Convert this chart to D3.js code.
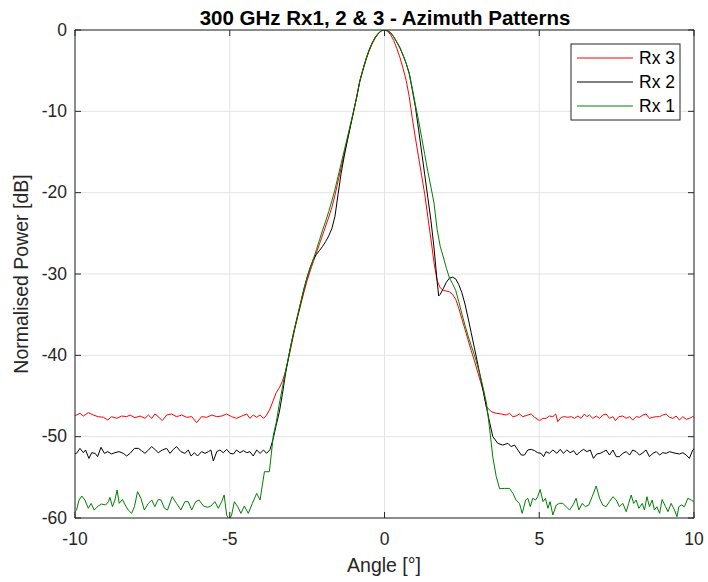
<!DOCTYPE html>
<html><head><meta charset="utf-8">
<script src="https://cdn.jsdelivr.net/npm/d3@7"></script>
<style>body{margin:0;background:#fff}</style>
</head><body><svg id="c" width="708" height="582"></svg>
<script>
const titleText = "300 GHz Rx1, 2 & 3 - Azimuth Patterns";
const xLabel = "Angle [°]";
const yLabel = "Normalised Power [dB]";
const xTicks = [-10, -5, 0, 5, 10];
const yTicks = [0, -10, -20, -30, -40, -50, -60];
const seriesNames = ["Rx 3", "Rx 2", "Rx 1"];
const seriesColors = ["#ff0000", "#000000", "#008000"];

// Rx 3 : [angle (deg), power (dB)]
const rx3 = [[-10,-47.4],[-9.95,-47.34],[-9.84,-47.13],[-9.73,-47.46],[-9.57,-47.05],[-9.41,-47.34],[-9.25,-47.54],[-9.08,-47.62],[-8.94,-47.95],[-8.82,-47.54],[-8.65,-47.75],[-8.49,-47.46],[-8.33,-47.54],[-8.22,-47.34],[-8.06,-47.67],[-7.9,-47.46],[-7.74,-47.75],[-7.63,-47.34],[-7.52,-47.75],[-7.42,-47.21],[-7.31,-47.54],[-7.18,-48.03],[-7.04,-47.34],[-6.88,-47.21],[-6.72,-47.54],[-6.55,-47.34],[-6.39,-47.62],[-6.23,-47.54],[-6.07,-48.28],[-5.91,-47.54],[-5.75,-47.62],[-5.58,-47.34],[-5.42,-47.54],[-5.26,-47.46],[-5.1,-47.21],[-4.94,-47.54],[-4.78,-47.75],[-4.61,-47.46],[-4.45,-47.21],[-4.35,-47.75],[-4.24,-47.34],[-4.13,-47.62],[-4.02,-47.34],[-3.91,-47.75],[-3.81,-47.34],[-3.7,-46.6],[-3.6,-45.6],[-3.5,-44.6],[-3.4,-44.0],[-3.3,-43.2],[-3.2,-42.0],[-3.1,-40.4],[-3.0,-38.6],[-2.9,-36.8],[-2.8,-35.2],[-2.7,-33.7],[-2.6,-32.2],[-2.5,-30.8],[-2.4,-29.6],[-2.3,-28.5],[-2.2,-27.4],[-2.1,-26.3],[-2.0,-25.2],[-1.9,-24.1],[-1.8,-23.0],[-1.7,-21.8],[-1.6,-20.3],[-1.5,-18.6],[-1.4,-16.9],[-1.3,-15.2],[-1.2,-13.5],[-1.1,-11.8],[-1.0,-10.1],[-0.9,-8.2],[-0.8,-6.4],[-0.7,-5.0],[-0.6,-3.7],[-0.5,-2.6],[-0.4,-1.7],[-0.3,-1.0],[-0.2,-0.45],[-0.1,-0.1],[0,0],[0.1,-0.15],[0.2,-0.6],[0.3,-1.3],[0.4,-2.3],[0.5,-3.4],[0.6,-4.7],[0.7,-6.2],[0.8,-8.2],[0.9,-10.9],[1.0,-13.3],[1.1,-15.6],[1.2,-17.9],[1.3,-20.2],[1.4,-23.0],[1.5,-25.7],[1.6,-28.6],[1.7,-30.8],[1.8,-31.7],[1.9,-32.0],[2.0,-32.1],[2.1,-32.2],[2.2,-32.5],[2.3,-33.1],[2.4,-34.2],[2.5,-35.5],[2.6,-36.8],[2.7,-38.1],[2.8,-39.4],[2.9,-40.6],[3.0,-41.9],[3.1,-43.2],[3.2,-44.5],[3.29,-46.31],[3.45,-46.93],[3.61,-47.13],[3.77,-47.21],[3.93,-47.34],[4.04,-47.13],[4.15,-47.54],[4.25,-47.46],[4.36,-47.21],[4.47,-47.54],[4.63,-47.34],[4.74,-47.21],[4.85,-47.62],[5.01,-48.03],[5.12,-47.75],[5.22,-47.75],[5.33,-47.46],[5.44,-47.54],[5.53,-47.21],[5.6,-48.16],[5.71,-47.62],[5.82,-47.54],[5.92,-47.62],[6.03,-47.54],[6.14,-47.75],[6.25,-47.46],[6.35,-47.75],[6.46,-47.21],[6.54,-47.54],[6.62,-47.34],[6.73,-47.75],[6.84,-47.46],[6.95,-47.75],[7.05,-47.34],[7.16,-47.21],[7.27,-47.75],[7.38,-47.54],[7.46,-48.03],[7.57,-47.54],[7.7,-47.46],[7.81,-47.75],[7.92,-47.54],[8.02,-47.95],[8.13,-47.54],[8.24,-47.62],[8.35,-47.34],[8.45,-47.21],[8.56,-47.75],[8.67,-47.62],[8.78,-47.54],[8.89,-47.54],[8.99,-47.34],[9.1,-47.21],[9.21,-47.62],[9.32,-47.75],[9.42,-47.46],[9.53,-47.95],[9.64,-47.54],[9.75,-47.87],[9.85,-47.75],[9.96,-47.54],[10,-47.6]];

// Rx 2
const rx2 = [[-10,-52.1],[-9.95,-52.05],[-9.84,-51.44],[-9.73,-51.97],[-9.66,-51.64],[-9.55,-52.67],[-9.46,-51.97],[-9.35,-52.05],[-9.27,-52.46],[-9.16,-51.31],[-9.05,-52.05],[-8.94,-51.84],[-8.82,-52.13],[-8.71,-51.97],[-8.58,-51.84],[-8.44,-52.05],[-8.33,-52.38],[-8.22,-52.05],[-8.08,-51.44],[-7.95,-51.44],[-7.85,-51.72],[-7.74,-52.05],[-7.63,-51.64],[-7.52,-51.23],[-7.42,-51.56],[-7.31,-51.97],[-7.18,-51.64],[-7.04,-51.44],[-6.93,-52.05],[-6.82,-51.56],[-6.72,-51.23],[-6.58,-51.84],[-6.45,-52.05],[-6.34,-51.64],[-6.25,-52.38],[-6.14,-51.97],[-6.04,-52.38],[-5.91,-51.84],[-5.8,-52.05],[-5.69,-51.84],[-5.61,-51.64],[-5.53,-52.99],[-5.42,-51.84],[-5.32,-51.64],[-5.21,-51.97],[-5.1,-51.56],[-4.99,-52.05],[-4.88,-52.13],[-4.78,-51.64],[-4.67,-51.97],[-4.56,-51.72],[-4.45,-51.97],[-4.35,-51.84],[-4.24,-52.38],[-4.13,-51.64],[-4.02,-52.05],[-3.91,-51.64],[-3.81,-52.05],[-3.7,-51.6],[-3.6,-50.3],[-3.5,-48.6],[-3.4,-47.0],[-3.3,-44.8],[-3.2,-42.3],[-3.1,-40.2],[-3.0,-38.3],[-2.9,-36.6],[-2.8,-35.0],[-2.7,-33.4],[-2.6,-31.8],[-2.5,-30.4],[-2.4,-29.2],[-2.3,-28.2],[-2.2,-27.6],[-2.1,-27.1],[-2.0,-26.6],[-1.9,-26.0],[-1.8,-25.3],[-1.7,-24.4],[-1.6,-22.9],[-1.5,-20.2],[-1.4,-17.6],[-1.3,-15.5],[-1.2,-13.6],[-1.1,-11.8],[-1.0,-10.0],[-0.9,-8.3],[-0.8,-6.3],[-0.7,-4.9],[-0.6,-3.6],[-0.5,-2.5],[-0.4,-1.6],[-0.3,-0.9],[-0.2,-0.4],[-0.1,-0.1],[0,0],[0.1,-0.08],[0.2,-0.35],[0.3,-0.85],[0.4,-1.5],[0.5,-2.2],[0.6,-3.1],[0.7,-4.1],[0.8,-5.4],[0.9,-7.4],[1.0,-9.5],[1.1,-12.2],[1.2,-15.0],[1.3,-17.8],[1.4,-20.6],[1.5,-23.4],[1.6,-26.8],[1.7,-30.9],[1.75,-32.7],[1.8,-32.5],[1.9,-31.8],[2.0,-31.0],[2.1,-30.5],[2.2,-30.4],[2.3,-30.6],[2.4,-31.3],[2.5,-32.3],[2.6,-33.7],[2.7,-35.4],[2.8,-37.2],[2.9,-39.0],[3.0,-40.8],[3.1,-42.7],[3.2,-44.6],[3.3,-46.5],[3.4,-48.3],[3.5,-50.0],[3.66,-50.82],[3.82,-51.03],[3.99,-50.82],[4.09,-51.23],[4.2,-51.03],[4.31,-51.64],[4.42,-52.26],[4.52,-52.26],[4.63,-51.64],[4.74,-51.56],[4.85,-51.72],[4.95,-51.97],[5.06,-52.05],[5.14,-52.46],[5.22,-51.84],[5.33,-52.05],[5.44,-51.64],[5.57,-52.05],[5.68,-51.56],[5.78,-52.05],[5.89,-51.64],[6.0,-51.97],[6.11,-51.72],[6.21,-52.26],[6.32,-51.84],[6.43,-51.56],[6.54,-51.84],[6.65,-51.64],[6.75,-52.67],[6.86,-52.13],[6.97,-52.05],[7.08,-51.84],[7.16,-51.64],[7.27,-52.26],[7.38,-51.64],[7.49,-52.46],[7.59,-52.46],[7.7,-52.05],[7.81,-51.84],[7.92,-52.26],[8.02,-51.64],[8.13,-51.84],[8.24,-52.26],[8.35,-51.97],[8.45,-51.64],[8.56,-52.46],[8.67,-52.05],[8.78,-51.84],[8.89,-52.26],[8.99,-51.97],[9.1,-52.05],[9.21,-51.84],[9.32,-51.97],[9.42,-52.05],[9.53,-52.13],[9.64,-51.97],[9.75,-52.26],[9.85,-52.67],[9.96,-51.64],[10,-51.5]];

// Rx 1
const rx1 = [[-10,-59.2],[-9.95,-59.02],[-9.87,-57.79],[-9.78,-57.3],[-9.68,-57.79],[-9.57,-58.81],[-9.48,-58.2],[-9.38,-59.02],[-9.25,-58.53],[-9.14,-58.28],[-9.01,-58.4],[-8.92,-57.99],[-8.87,-57.46],[-8.79,-58.61],[-8.71,-57.79],[-8.64,-56.56],[-8.57,-58.2],[-8.47,-57.71],[-8.38,-58.4],[-8.28,-59.02],[-8.17,-59.43],[-8.08,-58.61],[-7.98,-56.76],[-7.87,-57.58],[-7.76,-59.02],[-7.63,-58.2],[-7.52,-57.79],[-7.42,-58.61],[-7.31,-57.71],[-7.22,-57.79],[-7.11,-58.81],[-7.01,-59.02],[-6.86,-57.38],[-6.72,-58.2],[-6.58,-59.02],[-6.45,-57.99],[-6.34,-57.99],[-6.23,-59.02],[-6.1,-57.99],[-5.99,-57.79],[-5.85,-58.53],[-5.71,-58.69],[-5.61,-58.53],[-5.48,-57.99],[-5.37,-58.81],[-5.26,-57.99],[-5.18,-57.17],[-5.1,-59.63],[-5.02,-60.25],[-4.94,-59.63],[-4.85,-57.99],[-4.74,-58.61],[-4.64,-59.43],[-4.53,-58.53],[-4.4,-59.43],[-4.27,-58.2],[-4.13,-56.97],[-4.02,-57.79],[-3.88,-54.31],[-3.72,-54.31],[-3.59,-49.8],[-3.5,-48.3],[-3.4,-46.0],[-3.3,-44.0],[-3.2,-42.0],[-3.1,-40.2],[-3.0,-38.3],[-2.9,-36.6],[-2.8,-35.0],[-2.7,-33.4],[-2.6,-31.8],[-2.5,-30.4],[-2.4,-29.2],[-2.3,-28.2],[-2.2,-27.0],[-2.1,-25.8],[-2.0,-24.6],[-1.9,-23.5],[-1.8,-22.3],[-1.7,-21.0],[-1.6,-19.6],[-1.5,-18.0],[-1.4,-16.4],[-1.3,-14.8],[-1.2,-13.2],[-1.1,-11.6],[-1.0,-10.0],[-0.9,-8.3],[-0.8,-6.3],[-0.7,-4.9],[-0.6,-3.6],[-0.5,-2.5],[-0.4,-1.6],[-0.3,-0.9],[-0.2,-0.4],[-0.1,-0.1],[0,0],[0.1,-0.08],[0.2,-0.35],[0.3,-0.85],[0.4,-1.5],[0.5,-2.2],[0.6,-3.1],[0.7,-4.1],[0.8,-5.3],[0.9,-7.2],[1.0,-9.2],[1.1,-11.1],[1.2,-13.2],[1.3,-15.3],[1.4,-17.4],[1.5,-19.3],[1.6,-21.3],[1.7,-24.5],[1.8,-26.6],[1.9,-27.9],[2.0,-29.3],[2.1,-30.5],[2.2,-31.2],[2.3,-32.0],[2.4,-33.4],[2.5,-34.9],[2.6,-36.3],[2.7,-37.6],[2.8,-38.8],[2.9,-39.9],[3.0,-41.2],[3.1,-42.6],[3.2,-44.2],[3.3,-46.0],[3.39,-48.8],[3.5,-52.5],[3.61,-54.9],[3.72,-56.4],[3.88,-56.36],[4.04,-56.36],[4.15,-56.97],[4.25,-57.79],[4.36,-58.2],[4.45,-59.43],[4.56,-57.79],[4.63,-57.58],[4.71,-58.61],[4.79,-57.58],[4.88,-57.79],[4.95,-57.38],[5.03,-56.48],[5.12,-57.99],[5.2,-57.58],[5.28,-58.81],[5.35,-57.99],[5.44,-59.63],[5.55,-58.4],[5.65,-58.2],[5.76,-58.2],[5.87,-58.61],[5.98,-59.02],[6.09,-58.4],[6.19,-57.58],[6.28,-59.02],[6.39,-58.2],[6.49,-58.61],[6.6,-58.4],[6.71,-57.38],[6.84,-56.07],[6.95,-57.58],[7.05,-58.4],[7.16,-58.61],[7.27,-57.99],[7.38,-57.38],[7.49,-57.79],[7.59,-58.61],[7.7,-58.2],[7.81,-59.22],[7.89,-58.2],[7.97,-57.17],[8.05,-58.2],[8.13,-57.79],[8.22,-58.81],[8.33,-58.2],[8.4,-59.02],[8.48,-57.38],[8.56,-58.61],[8.65,-57.79],[8.72,-59.02],[8.8,-58.61],[8.89,-59.43],[8.97,-57.71],[9.08,-58.61],[9.16,-59.22],[9.26,-58.2],[9.37,-59.02],[9.45,-59.84],[9.51,-58.61],[9.59,-58.4],[9.69,-58.61],[9.8,-57.58],[9.91,-57.79],[9.99,-57.99],[10,-58.0]];

const seriesData = [rx3, rx2, rx1];

const svg = d3.select("#c");
const L = 75, R = 694, T = 30, B = 518;
const x = d3.scaleLinear().domain([-10, 10]).range([L, R]);
const y = d3.scaleLinear().domain([-60, 0]).range([B, T]);
const font = "'Liberation Sans', Arial, Helvetica, sans-serif";
const axisCol = "#262626";
const fmt = d => String(d);

svg.append("rect").attr("x", L).attr("y", T).attr("width", R - L).attr("height", B - T).attr("fill", "#fff");

// grid
const grid = svg.append("g").attr("stroke", "#e3e3e3").attr("stroke-width", 1);
grid.selectAll("line.v").data(xTicks).join("line").attr("class", "v")
  .attr("x1", d => x(d)).attr("x2", d => x(d)).attr("y1", T).attr("y2", B);
grid.selectAll("line.h").data(yTicks).join("line").attr("class", "h")
  .attr("x1", L).attr("x2", R).attr("y1", d => y(d)).attr("y2", d => y(d));

// clip
svg.append("clipPath").attr("id", "clip").append("rect")
  .attr("x", L).attr("y", T).attr("width", R - L).attr("height", B - T);

const line = d3.line().x(d => x(d[0])).y(d => y(d[1]));
const lines = svg.append("g").attr("clip-path", "url(#clip)");
seriesData.forEach((data, i) => {
  lines.append("path").datum(data).attr("d", line).attr("fill", "none")
    .attr("stroke", seriesColors[i]).attr("stroke-width", 1).attr("stroke-linejoin", "round");
});

function styleAxis(g) {
  g.selectAll(".domain").attr("stroke", axisCol).attr("stroke-width", 1);
  g.selectAll(".tick line").attr("stroke", axisCol).attr("stroke-width", 1);
  g.selectAll(".tick text").attr("fill", axisCol).style("font-family", font).style("font-size", "17.5px");
}
svg.append("g").attr("transform", `translate(0,${B})`)
  .call(d3.axisBottom(x).offset(0).tickValues(xTicks).tickSizeInner(-6).tickSizeOuter(0).tickPadding(15).tickFormat(fmt))
  .call(styleAxis);
svg.append("g").attr("transform", `translate(0,${T})`)
  .call(d3.axisTop(x).offset(0).tickValues(xTicks).tickSizeInner(-6).tickSizeOuter(0).tickFormat(""))
  .call(styleAxis);
svg.append("g").attr("transform", `translate(${L},0)`)
  .call(d3.axisLeft(y).offset(0).tickValues(yTicks).tickSizeInner(-6).tickSizeOuter(0).tickPadding(8).tickFormat(fmt))
  .call(styleAxis);
svg.append("g").attr("transform", `translate(${R},0)`)
  .call(d3.axisRight(y).offset(0).tickValues(yTicks).tickSizeInner(-6).tickSizeOuter(0).tickFormat(""))
  .call(styleAxis);

// title and labels
svg.append("text").attr("x", 385).attr("y", 25).attr("text-anchor", "middle")
  .style("font-family", font).style("font-size", "20.5px").style("font-weight", "bold").attr("fill", "#000").text(titleText);
svg.append("text").attr("x", 384).attr("y", 572).attr("text-anchor", "middle")
  .style("font-family", font).style("font-size", "19.5px").attr("fill", axisCol).text(xLabel);
svg.append("text").attr("transform", `translate(28,${(T + B) / 2}) rotate(-90)`).attr("text-anchor", "middle")
  .style("font-family", font).style("font-size", "19.5px").attr("fill", axisCol).text(yLabel);

// legend
const lg = svg.append("g");
lg.append("rect").attr("x", 571).attr("y", 44).attr("width", 109).attr("height", 76)
  .attr("fill", "#fff").attr("stroke", axisCol).attr("stroke-width", 1);
const rowsY = [58, 82, 106];
seriesNames.forEach((n, i) => {
  lg.append("line").attr("x1", 577).attr("x2", 633).attr("y1", rowsY[i]).attr("y2", rowsY[i])
    .attr("stroke", seriesColors[i]).attr("stroke-width", 1);
  lg.append("text").attr("x", 639).attr("y", rowsY[i] + 6).style("font-family", font)
    .style("font-size", "17.5px").attr("fill", "#000").text(n);
});
</script></body></html>
